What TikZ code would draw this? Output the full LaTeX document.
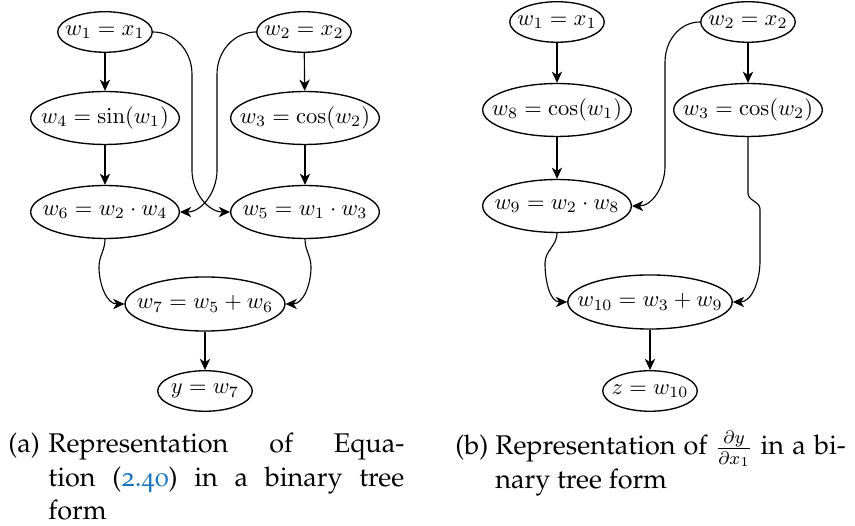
\documentclass[tikz,border=0pt]{standalone}
\usepackage[T1]{fontenc}
\usepackage{amsmath,amssymb}
\usetikzlibrary{arrows.meta,shapes.geometric}
\definecolor{linkblue}{RGB}{25,118,190}
\newcommand{\capfont}{\fontfamily{ppl}\fontsize{12}{14.7}\selectfont}
\newcommand{\osf}[1]{{\fontfamily{pplj}\selectfont #1}}

\begin{document}
\begin{tikzpicture}[x=0.444pt,y=0.444pt,>={Stealth[length=5pt,width=4.6pt,inset=1.5pt]},
        leaf/.style={ellipse,draw,semithick,inner sep=-40pt,minimum width=42pt,minimum height=18pt},
        func/.style={leaf,minimum width=66pt,minimum height=23.5pt},
        sum/.style={leaf,minimum width=#1,minimum height=24pt},
        link/.style={->,line width=0.5pt},
        subcap/.style={anchor=base west,inner sep=0pt,text width=#1,align=justify,font=\capfont}]
        \useasboundingbox (0,0) rectangle (855,526);

        \node[leaf] (w1) at (105,494) {$w_1 = x_1$};
        \node[leaf] (w2) at (304,494) {$w_2 = x_2$};
        \node[func] (w4) at (105,408) {$w_4 = \sin(w_1)$};
        \node[func] (w3) at (305,408) {$w_3 = \cos(w_2)$};
        \node[func] (w6) at (105,314) {$w_6 = w_2 \cdot w_4$};
        \node[func] (w5) at (305,314) {$w_5 = w_1 \cdot w_3$};
        \node[sum=71pt] (w7) at (205,222) {$w_7 = w_5 + w_6$};
        \node[leaf] (y) at (205,135) {$y = w_7$};

        \draw[link] (w1) -- (w4);
        \draw[link] (w4) -- (w6);
        \draw[link] (w2) -- (w3);
        \draw[link] (w3) -- (w5);
        \draw[link] (w7) -- (y);
        \draw[link] (w1.east) to[out=0,in=90] ++(39,-42) -- ++(0,-96) to[out=-90,in=180] (w5.west);
        \draw[link] (w2.west) to[out=180,in=90] ++(-39,-42) -- ++(0,-96) to[out=-90,in=0] (w6.east);
        \draw[link] (w6.south) to[out=-90,in=90] ++(-6,-28) to[out=-90,in=180] (w7.west);
        \draw[link] (w5.south) to[out=-90,in=90] ++(6,-28) to[out=-90,in=0] (w7.east);

        \node[leaf] (w1b) at (557,504) {$w_1 = x_1$};
        \node[leaf] (w2b) at (748,504) {$w_2 = x_2$};
        \node[func] (w8) at (557,416) {$w_8 = \cos(w_1)$};
        \node[func] (w3b) at (748,416) {$w_3 = \cos(w_2)$};
        \node[func] (w9) at (557,320) {$w_9 = w_2 \cdot w_8$};
        \node[sum=73pt] (w10) at (650,224) {$w_{10} = w_3 + w_9$};
        \node[leaf] (z) at (650,135) {$z = w_{10}$};

        \draw[link] (w1b) -- (w8);
        \draw[link] (w8) -- (w9);
        \draw[link] (w2b) -- (w3b);
        \draw[link] (w10) -- (z);
        \draw[link] (w2b.west) to[out=180,in=90] ++(-35,-40) -- ++(0,-104) to[out=-90,in=0] (w9.east);
        \draw[link] (w9.south) to[out=-90,in=90] ++(-12,-30) to[out=-90,in=180] (w10.west);
        \draw[link] (w3b.south) -- ++(0,-56) to[out=-90,in=90] ++(12,-16) -- ++(0,-52) to[out=-90,in=0] (w10.east);

        \node[anchor=base west,inner sep=0pt,font=\capfont] (capa) at (8,73) {(a)};
        \node[subcap=158pt] (texta) at (48,73) {Representation of Equa-\linebreak tion (\textcolor{linkblue}{\osf{2.40}}) in a binary tree\linebreak form};
        \node[anchor=base west,inner sep=0pt,font=\capfont] (capb) at (455,71) {(b)};
        \node[subcap=155.6pt] (textb) at (495,71) {Representation of $\frac{\partial y}{\partial x_1}$ in a bi-\linebreak nary tree form};
\end{tikzpicture}
\end{document}
